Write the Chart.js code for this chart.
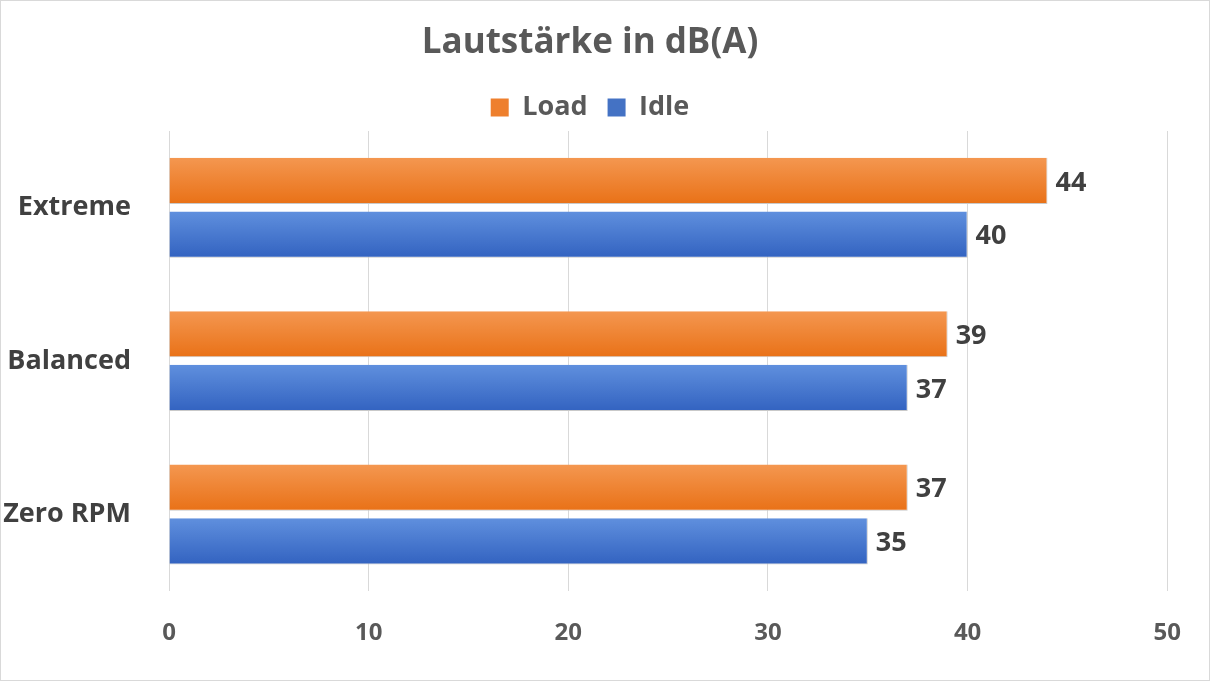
<!DOCTYPE html>
<html><head><meta charset="utf-8">
<script src="https://cdn.jsdelivr.net/npm/chart.js@4"></script>
<style>
html,body{margin:0;padding:0;background:#fff}
#wrap{position:absolute;left:0;top:0;width:1208px;height:679px;border:1px solid #d9d9d9}
</style></head><body>
<div id="wrap"><canvas id="c"></canvas></div>
<script>
const categories = ["Extreme", "Balanced", "Zero RPM"];
const loadValues = [44, 39, 37];
const idleValues = [40, 37, 35];
const xTicks = [0, 10, 20, 30, 40, 50];

function grad(ctx, light, dark, dsIndex) {
  const chart = ctx.chart;
  const ys = chart.scales.y;
  if (!ys || ctx.dataIndex === undefined) return dark;
  const c = ys.getPixelForValue(ctx.dataIndex);
  const slot = ys.getPixelForValue(1) - ys.getPixelForValue(0);
  const h = slot * 0.7 / 2;
  const top = c - h + dsIndex * h;
  const g = chart.ctx.createLinearGradient(0, top, 0, top + h);
  g.addColorStop(0, light); g.addColorStop(1, dark);
  return g;
}

const labelPlugin = {
  id: 'vals',
  afterDatasetsDraw(chart) {
    const ctx = chart.ctx;
    ctx.save();
    ctx.font = 'bold 27px "Open Sans", "Liberation Sans", sans-serif';
    ctx.fillStyle = '#404040';
    ctx.textBaseline = 'middle';
    chart.data.datasets.forEach((ds, i) => {
      chart.getDatasetMeta(i).data.forEach((bar, j) => {
        ctx.fillText(ds.data[j], bar.x + 8, bar.y + 2);
      });
    });
    ctx.restore();
  }
};

const FF = '"Open Sans", "Liberation Sans", sans-serif';
new Chart(document.getElementById('c'), {
  type: 'bar',
  data: {
    labels: categories,
    datasets: [
      { label: 'Load', data: loadValues,
        backgroundColor: ctx => grad(ctx, '#F59A55', '#E86E12', 0),
        borderColor: '#C9C9C9', borderWidth: {top:0,left:0,right:1,bottom:1}, borderSkipped: false,
        barPercentage: 0.86, categoryPercentage: 0.7 },
      { label: 'Idle', data: idleValues,
        backgroundColor: ctx => grad(ctx, '#6393E0', '#2F5FBE', 1),
        borderColor: '#C9C9C9', borderWidth: {top:0,left:0,right:1,bottom:1}, borderSkipped: false,
        barPercentage: 0.86, categoryPercentage: 0.7 }
    ]
  },
  options: {
    indexAxis: 'y',
    responsive: true, maintainAspectRatio: false, animation: false,
    layout: { padding: { left: 0, right: 30, top: 15, bottom: 4 } },
    plugins: {
      title: { display: true, text: 'Lautstärke in dB(A)', color: '#595959',
        font: { size: 35, weight: 'bold', family: FF },
        padding: { top: 6, bottom: 10 } },
      legend: { display: true, position: 'top',
        labels: { color: '#595959', boxWidth: 18, boxHeight: 18, padding: 20,
          font: { size: 27, weight: 'bold', family: FF },
          generateLabels: chart => [
            { text: 'Load', fillStyle: '#EE7F2D', strokeStyle: '#EE7F2D', lineWidth: 0, datasetIndex: 0, fontColor: '#595959' },
            { text: 'Idle', fillStyle: '#4472C4', strokeStyle: '#4472C4', lineWidth: 0, datasetIndex: 1, fontColor: '#595959' }
          ] } },
      tooltip: { enabled: false }
    },
    scales: {
      x: { min: 0, max: 50, afterBuildTicks: a => { a.ticks = xTicks.map(v => ({ value: v })); },
        grid: { color: '#D9D9D9', drawTicks: false }, border: { display: false },
        ticks: { color: '#595959', padding: 28,
          font: { size: 24, weight: 'bold', family: FF } } },
      y: { grid: { display: false }, border: { display: false },
        afterFit: s => { s.width = 168; },
        ticks: { color: '#404040', padding: 30,
          font: { size: 27, weight: 'bold', family: FF } } }
    }
  },
  plugins: [labelPlugin]
});
</script>
</body></html>
